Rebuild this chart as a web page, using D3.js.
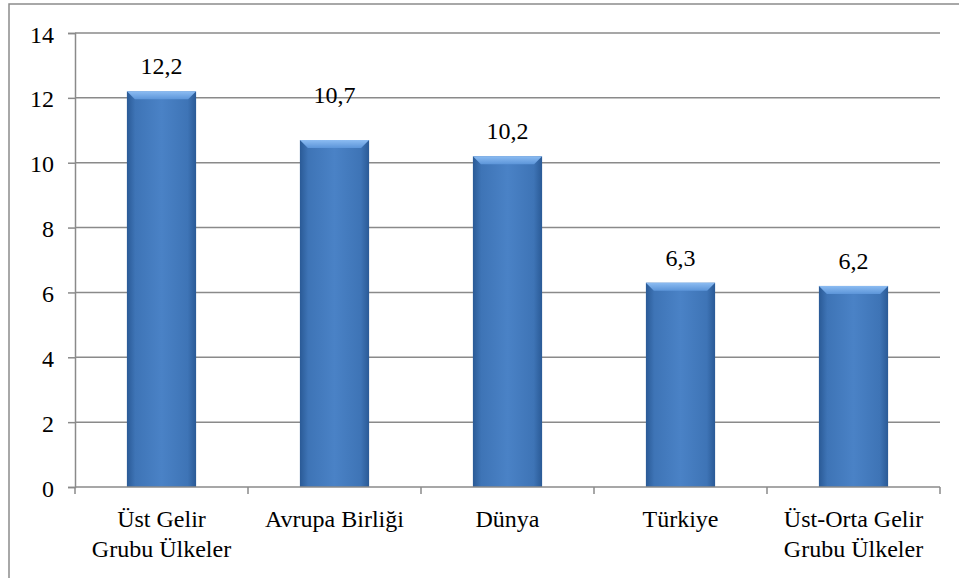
<!DOCTYPE html>
<html><head><meta charset="utf-8">
<script src="https://cdn.jsdelivr.net/npm/d3@7"></script>
<style>body{margin:0;background:#fff}svg{display:block}svg text{font-family:"Liberation Serif",serif !important;font-size:24px !important}</style>
</head><body><svg id="c" width="959" height="578" font-family="Liberation Serif"></svg>
<script>
const categories = [["Üst Gelir","Grubu Ülkeler"],["Avrupa Birliği"],["Dünya"],["Türkiye"],["Üst-Orta Gelir","Grubu Ülkeler"]];
const values = [12.2, 10.7, 10.2, 6.3, 6.2];
const valueLabels = ["12,2","10,7","10,2","6,3","6,2"];
const yTicks = [0,2,4,6,8,10,12,14];

(function(){
const FONT = "Liberation Serif";
const FS = 24;
const svg = d3.select("#c");
const pL = 75, pR = 940, pT = 33, pB = 487;
const x = d3.scaleBand().domain(d3.range(values.length)).range([pL, pR]).padding(0);
const y = d3.scaleLinear().domain([0,14]).range([pB, pT]);
const bw = x.bandwidth()*0.4;

// outer frame
svg.append("path").attr("d",`M9,578 V4 H959`).attr("fill","none").attr("stroke","#8c8c8c").attr("stroke-width",1.5);

const defs = svg.append("defs");
const g1 = defs.append("linearGradient").attr("id","bar").attr("x1",0).attr("x2",1).attr("y1",0).attr("y2",0);
[[0,"#2a5a96"],[0.12,"#3e74b6"],[0.5,"#4a82c6"],[0.88,"#3e74b6"],[1,"#2a5a96"]].forEach(([o,c])=>g1.append("stop").attr("offset",o).attr("stop-color",c));
const g2 = defs.append("linearGradient").attr("id","bev").attr("x1",0).attr("x2",0).attr("y1",0).attr("y2",1);
g2.append("stop").attr("offset",0).attr("stop-color","#8cbcf2");
g2.append("stop").attr("offset",1).attr("stop-color","#5c95d9");

// gridlines
svg.append("g").selectAll("line").data(yTicks.filter(d=>d>0)).join("line")
  .attr("x1",pL).attr("x2",pR).attr("y1",d=>y(d)).attr("y2",d=>y(d))
  .attr("stroke","#8a8a8a").attr("stroke-width",1.5);

// y axis
const ya = svg.append("g").attr("transform",`translate(${pL},0)`)
  .call(d3.axisLeft(y).tickValues(yTicks).tickSize(7).tickPadding(14));
ya.attr("font-family",FONT).attr("font-size",FS);
ya.select(".domain").attr("stroke","#8a8a8a").attr("stroke-width",1.5);
ya.selectAll(".tick line").attr("stroke","#8a8a8a").attr("stroke-width",1.5);
ya.selectAll(".tick text").attr("fill","#000").attr("dy","0.38em")
  .attr("font-family",FONT).attr("font-size",FS);

// bars
const bars = svg.append("g").selectAll("g").data(values).join("g");
bars.append("rect").attr("x",(d,i)=>x(i)+(x.bandwidth()-bw)/2).attr("width",bw)
  .attr("y",d=>y(d)).attr("height",d=>pB-y(d)).attr("fill","url(#bar)");
bars.append("path").attr("d",(d,i)=>{const x0=x(i)+(x.bandwidth()-bw)/2, y0=y(d), b=8;
  return `M${x0},${y0} H${x0+bw} L${x0+bw-b},${y0+b} H${x0+b} Z`;}).attr("fill","url(#bev)");

// x axis
const xa = svg.append("g").attr("transform",`translate(0,${pB})`);
xa.append("line").attr("x1",pL).attr("x2",pR).attr("stroke","#8a8a8a").attr("stroke-width",1.5);
xa.selectAll(".t").data(d3.range(values.length+1)).join("line").attr("class","t")
  .attr("x1",i=>pL+i*x.bandwidth()).attr("x2",i=>pL+i*x.bandwidth()).attr("y1",0).attr("y2",7)
  .attr("stroke","#8a8a8a").attr("stroke-width",1.5);

// value labels
const nudge = [0,20,0,0,0];
svg.append("g").selectAll("text").data(values).join("text")
  .attr("x",(d,i)=>x(i)+x.bandwidth()/2).attr("y",(d,i)=>y(d)-17-nudge[i])
  .attr("text-anchor","middle").attr("fill","#000")
  .attr("font-family",FONT).attr("font-size",FS).text((d,i)=>valueLabels[i]);

// category labels
svg.append("g").selectAll("text").data(categories).join("text")
  .attr("x",(d,i)=>x(i)+x.bandwidth()/2).attr("y",527)
  .attr("text-anchor","middle").attr("fill","#000")
  .attr("font-family",FONT).attr("font-size",FS)
  .each(function(d,i){const t=d3.select(this);d.forEach((s,k)=>t.append("tspan").attr("x",x(i)+x.bandwidth()/2).attr("dy",k?30:0).text(s));});
})();
</script></body></html>
